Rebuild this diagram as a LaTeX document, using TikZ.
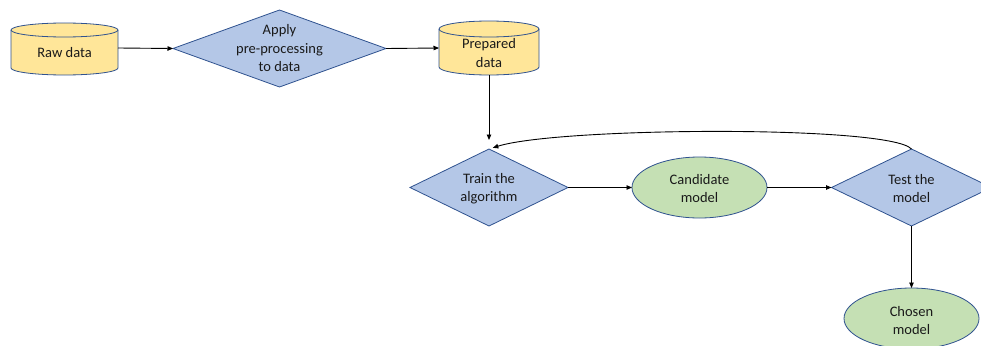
\documentclass[tikz,border=0pt]{standalone}
\usepackage{fontspec}
\setmainfont{Carlito}
\usetikzlibrary{shapes.geometric,arrows.meta,calc}
\definecolor{cylfill}{HTML}{FFE699}
\definecolor{diafill}{HTML}{B4C7E7}
\definecolor{ellfill}{HTML}{C5E0B4}
\definecolor{edgeblue}{HTML}{2F528F}
\definecolor{txtcol}{HTML}{1A1A1A}
\newcommand\mycyl[8]{% name, cx, cy(top), cy(bottom), rx, ry, text y, text
  \path[cylshape] (#2-#5,#3-#6) -- (#2-#5,#4+#6)
    arc[start angle=180,end angle=360,x radius=#5,y radius=#6]
    -- (#2+#5,#3-#6)
    arc[start angle=0,end angle=180,x radius=#5,y radius=#6] -- cycle;
  \draw[cylline] (#2-#5,#3-#6) arc[start angle=180,end angle=360,x radius=#5,y radius=#6];
  \node[box, minimum width=2*#5 pt, minimum height=#3-#4 pt] (#1) at (#2,{(#3+#4)/2}) {};
  \node[txt] (#1t) at (#2,#7) {#8};
}
\begin{document}
\begin{tikzpicture}[x=1pt,y=1pt,
  txt/.style={font=\fontsize{14.5}{18.5}\selectfont, text=txtcol, align=center, inner sep=0pt},
  box/.style={inner sep=0pt, outer sep=0pt, draw=none},
  cylshape/.style={fill=cylfill, draw=edgeblue, line width=0.8pt},
  cylline/.style={draw=edgeblue, line width=0.8pt},
  dia/.style={diamond, fill=diafill, draw=edgeblue, line width=0.8pt, inner sep=0pt, outer sep=0pt},
  ell/.style={ellipse, fill=ellfill, draw=edgeblue, line width=0.8pt, inner sep=0pt, outer sep=0pt},
  conn/.style={draw=black, line width=0.9pt, -{Triangle[length=5.5pt,width=4.5pt]}}
]
\useasboundingbox (0,0) rectangle (981,-345);

% cylinders
\mycyl{raw}{64.5}{-23}{-75}{53.5}{7}{-53}{Raw data}
\mycyl{prep}{489}{-21}{-75}{50}{8}{-53}{Prepared\\data}

% diamonds
\node[dia, minimum width=213pt, minimum height=77pt] (apply) at (279.5,-48.5) {};
\node[txt] (applyt) at (apply) {Apply\\pre-processing\\to data};
\node[dia, minimum width=158pt, minimum height=77pt] (train) at (489,-187.5) {};
\node[txt] (traint) at ([yshift=-1pt]train.center) {Train the\\algorithm};
\node[dia, minimum width=160pt, minimum height=77pt] (test) at (911.5,-187.5) {};
\node[txt] (testt) at ([yshift=-1pt]test.center) {Test the\\model};

% ellipses
\node[ell, minimum width=135pt, minimum height=61pt] (cand) at (699.5,-187.5) {};
\node[txt] (candt) at ([yshift=-1pt]cand.center) {Candidate\\model};
\node[ell, minimum width=135pt, minimum height=61pt] (chosen) at (911.5,-318.5) {};
\node[txt] (chosent) at ([yshift=-2pt]chosen.center) {Chosen\\model};

% connectors
\draw[conn] (raw.east |- 0,-48) -- (apply.west);
\draw[conn] (apply.east) -- (prep.west |- 0,-48);
\draw[conn, shorten >=9pt] (prep.south) -- (train.north);
\draw[conn, shorten >=4pt] (test.north) .. controls +(-22,24) and +(70,22) .. (train.north);
\draw[conn] (train.east) -- (cand.west);
\draw[conn] (cand.east) -- (test.west);
\draw[conn] (test.south) -- (chosen.north);
\end{tikzpicture}
\end{document}
